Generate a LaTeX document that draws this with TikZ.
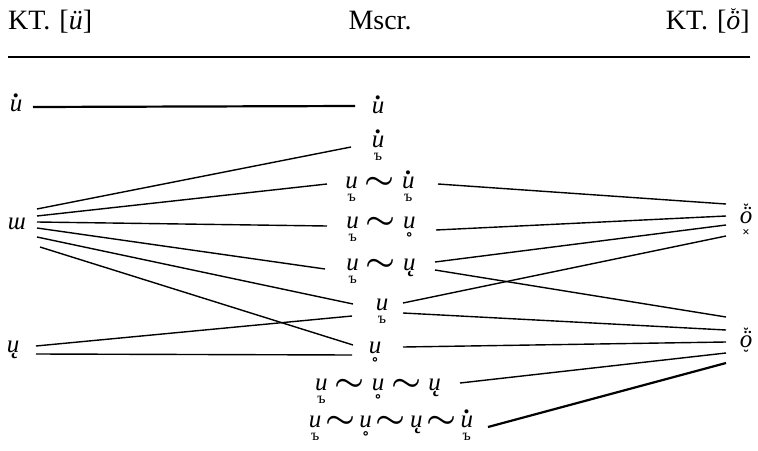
\documentclass[tikz,border=0pt]{standalone}
\usepackage{fontspec}
\setmainfont{Liberation Serif}
\usepackage{graphicx}
\usepackage{amsmath}
\usetikzlibrary{calc}
% base with marks above (#2) and below (#3)
\newcommand{\phmk}[3]{\leavevmode\setbox0=\hbox{#1}\rlap{\hbox to\wd0{\hss#2\hss}}\rlap{\hbox to\wd0{\hss#3\hss}}\box0}
\newcommand{\adot}{\raisebox{14pt}[0pt][0pt]{\kern1.5pt\bfseries.}}
\newcommand{\bjer}{\raisebox{-13pt}[0pt][0pt]{\fontsize{16}{16}\selectfont\upshape ъ}}
\newcommand{\bring}{\raisebox{-20pt}[0pt][0pt]{\fontsize{22}{22}\selectfont\upshape\bfseries ˚}}
\newcommand{\bog}{\raisebox{-1pt}[0pt][0pt]{\kern3pt\upshape\bfseries ˛}}
\newcommand{\Ud}{\phmk{u}{\adot}{}}
\newcommand{\Ub}{\phmk{u}{}{\bjer}}
\newcommand{\Udb}{\phmk{u}{\adot}{\bjer}}
\newcommand{\Ur}{\phmk{u}{}{\bring}}
\newcommand{\Uo}{\phmk{u}{}{\bog}}
\newcommand{\sepT}{\hspace{7pt}\scalebox{1.35}[1.15]{$\boldsymbol{\sim}$}\hspace{7pt}}
\newcommand{\sepS}{\hspace{4pt}\scalebox{1.35}[1.15]{$\boldsymbol{\sim}$}\hspace{4pt}}
\newcommand{\brv}[1]{\raisebox{#1}[0pt][0pt]{\fontsize{15}{15}\selectfont\upshape\bfseries ˘}}
\newcommand{\Otop}{\phmk{ö}{\brv{9pt}}{\raisebox{-13pt}[0pt][0pt]{\fontsize{13}{13}\selectfont\upshape\bfseries ×}}}
\newcommand{\Obot}{\phmk{ö}{\brv{9pt}}{\brv{-13pt}}}
\begin{document}
\begin{tikzpicture}[x=1pt,y=-1pt,
  hdr/.style={font=\fontsize{28}{28}\selectfont, inner sep=0pt},
  sym/.style={font=\fontsize{25}{25}\selectfont\itshape, inner sep=0pt, anchor=base},
  conn/.style={line width=1.4pt},
  connb/.style={line width=2.2pt}]
\useasboundingbox (0,0) rectangle (758,450);
% header
\node[hdr, anchor=base west] (h1) at (8,29) {KT.\hspace{9pt}[\textit{ü}]};
\node[hdr, anchor=base] (h2) at (380,29) {Mscr.};
\node[hdr, anchor=base east] (h3) at (750,29) {KT.\hspace{9pt}[\phmk{\textit{ö}}{\raisebox{10pt}[0pt][0pt]{\fontsize{16}{16}\selectfont ˘}}{}]};
\coordinate (r1) at (8,57);
\coordinate (r2) at (750,57);
\draw[line width=2.2pt] (r1) -- (r2);
% left column
\node[sym] (L1) at (16,111) {\Ud};
\node[sym] (L2) at (17,229) {ɯ};
\node[sym] (L3) at (13,352) {\Uo};
% middle column
\node[sym] (M1) at (378,113) {\Ud};
\node[sym] (M2) at (378,147) {\Udb};
\node[sym] (M3) at (380,188) {\Ub\sepT\Udb};
\node[sym] (M4) at (381,228) {\Ub\sepT\Ur};
\node[sym] (M5) at (381,270) {\Ub\sepT\Uo};
\node[sym] (M6) at (382,310) {\Ub};
\node[sym] (M7) at (375,353) {\Ur};
\node[sym] (M8) at (378,390) {\Ub\sepT\Ur\sepT\Uo};
\node[sym] (M9) at (391,427) {\Ub\sepS\Ur\sepS\Uo\sepS\Udb};
% right column
\node[sym] (R1) at (746,223) {\Otop};
\node[sym] (R2) at (746,347) {\Obot};
% connectors left
\draw[connb] ($(L1.base)+(17,-4)$) -- ($(M1.base)+(-23,-7)$);
\draw[conn] ($(L2.base)+(20,-20)$) -- ($(M2.base)+(-27,0)$);
\draw[conn] ($(L2.base)+(20,-13)$) -- ($(M3.base)+(-53,-4)$);
\draw[conn] ($(L2.base)+(20,-7)$) -- ($(M4.base)+(-54,-2)$);
\draw[conn] ($(L2.base)+(20,-1)$) -- ($(M5.base)+(-56,-1)$);
\draw[conn] ($(L2.base)+(20,8)$) -- ($(M6.base)+(-29,-6)$);
\draw[conn] ($(L2.base)+(23,18)$) -- ($(M7.base)+(-22,-8)$);
\draw[conn] ($(L3.base)+(23,-6)$) -- ($(M6.base)+(-30,6)$);
\draw[conn] ($(L3.base)+(23,2)$) -- ($(M7.base)+(-23,2)$);
% connectors right
\draw[conn] ($(M3.base)+(58,-4)$) -- ($(R1.base)+(-20,-19)$);
\draw[conn] ($(M4.base)+(55,2)$) -- ($(R1.base)+(-20,-7)$);
\draw[conn] ($(M5.base)+(54,-8)$) -- ($(R1.base)+(-20,2)$);
\draw[conn] ($(M6.base)+(21,-7)$) -- ($(R1.base)+(-20,13)$);
\draw[conn] ($(M5.base)+(54,0)$) -- ($(R2.base)+(-20,-30)$);
\draw[conn] ($(M6.base)+(21,3)$) -- ($(R2.base)+(-20,-17)$);
\draw[conn] ($(M7.base)+(28,-6)$) -- ($(R2.base)+(-20,-5)$);
\draw[conn] ($(M8.base)+(82,-7)$) -- ($(R2.base)+(-20,6)$);
\draw[connb] ($(M9.base)+(97,0)$) -- ($(R2.base)+(-20,16)$);
\end{tikzpicture}
\end{document}
